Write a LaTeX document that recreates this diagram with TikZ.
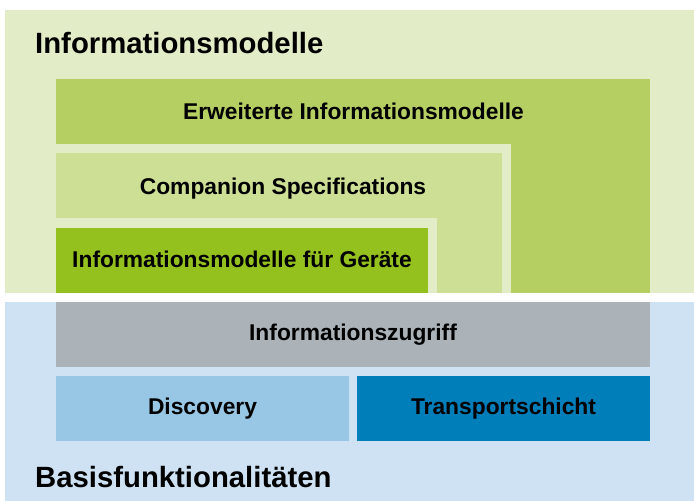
\documentclass[tikz,border=0pt]{standalone}
\usepackage{fontspec}
\setmainfont{Liberation Sans}
\definecolor{palegreen}{HTML}{E2ECC7}
\definecolor{midgreen}{HTML}{B6CF62}
\definecolor{lightgreen}{HTML}{CDDF94}
\definecolor{stronggreen}{HTML}{95C11F}
\definecolor{palegrey}{HTML}{ABB2B8}
\definecolor{paleblue}{HTML}{CFE2F3}
\definecolor{midblue}{HTML}{98C7E5}
\definecolor{deepblue}{HTML}{007EBA}
\begin{document}
\begin{tikzpicture}[x=1pt,y=-1pt,
  area/.style={inner sep=0pt, outer sep=0pt, anchor=north west, draw=none},
  lbl/.style={inner sep=0pt, anchor=base, font=\bfseries\fontsize{22.8}{26}\selectfont},
  boxlbl/.style={area, font=\bfseries\fontsize{22.8}{26}\selectfont, align=center},
  title/.style={inner sep=0pt, anchor=base west, font=\bfseries\fontsize{29.3}{33}\selectfont}]
\useasboundingbox[fill=white] (0,0) rectangle (694,501);
% upper part
\node[area, fill=palegreen, minimum width=689pt, minimum height=282.5pt] (infobg) at (5,10) {};
\node[area, fill=midgreen, minimum width=594pt, minimum height=213.5pt] (erw) at (56,79) {};
\node[area, fill=palegreen, minimum width=455pt, minimum height=148.5pt] (compframe) at (56,144) {};
\node[area, fill=lightgreen, minimum width=445.5pt, minimum height=139.5pt] (comp) at (56,153) {};
\node[area, fill=palegreen, minimum width=381pt, minimum height=74.5pt] (gerframe) at (56,218) {};
\node[area, fill=stronggreen, minimum width=372pt, minimum height=64.5pt] (ger) at (56,228) {};
\node[title] (infotitle) at (35,53) {Informationsmodelle};
\node[lbl] (erwlbl) at (353.5,119.5) {Erweiterte Informationsmodelle};
\node[lbl] (complbl) at (283,194.5) {Companion Specifications};
\node[lbl] (gerlbl) at (242,267) {Informationsmodelle für Geräte};
% lower part
\node[area, fill=paleblue, minimum width=689pt, minimum height=199pt] (basisbg) at (5,302) {};
\node[boxlbl, fill=palegrey, minimum width=594pt, minimum height=65pt] (zugriff) at (56,302) {Informationszugriff};
\node[boxlbl, fill=midblue, minimum width=293pt, minimum height=65pt] (disc) at (56,376) {Discovery};
\node[boxlbl, fill=deepblue, minimum width=293pt, minimum height=65pt] (trans) at (357,376) {Transportschicht};
\node[title] (basistitle) at (35,487) {Basisfunktionalitäten};
\end{tikzpicture}
\end{document}
